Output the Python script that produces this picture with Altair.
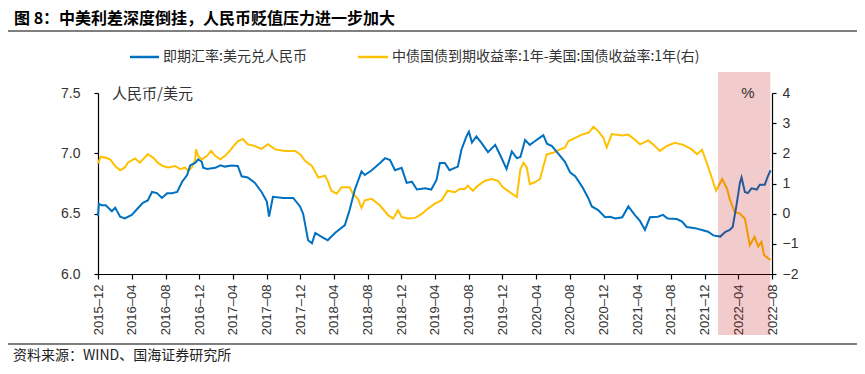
import altair as alt
import pandas as pd

# ---------------- data ----------------
fx_dates = ["2015-12-01","2015-12-04","2015-12-15","2015-12-29","2016-01-20","2016-02-01","2016-02-19","2016-03-07","2016-04-01","2016-04-23",
            "2016-05-11","2016-05-29","2016-06-13","2016-07-01","2016-07-19","2016-08-07","2016-08-24","2016-09-12","2016-09-30","2016-10-18",
            "2016-10-29","2016-11-16","2016-11-27","2016-12-10","2016-12-15","2016-12-29","2017-01-28","2017-02-15","2017-03-03","2017-03-28",
            "2017-04-19","2017-05-03","2017-05-25","2017-06-20","2017-07-14","2017-08-02","2017-08-10","2017-08-24","2017-09-30","2017-11-05",
            "2017-11-30","2017-12-11","2017-12-29","2018-01-12","2018-01-24","2018-02-22","2018-03-10","2018-04-05","2018-05-11","2018-05-28",
            "2018-06-16","2018-07-10","2018-07-22","2018-08-16","2018-09-15","2018-10-03","2018-10-21","2018-11-08","2018-12-02","2018-12-20",
            "2019-01-08","2019-01-26","2019-02-25","2019-03-19","2019-04-07","2019-04-19","2019-05-07","2019-05-24","2019-06-23","2019-07-06",
            "2019-07-24","2019-08-02","2019-08-13","2019-08-29","2019-09-17","2019-10-10","2019-11-05","2019-11-22","2019-12-16","2020-01-04",
            "2020-01-22","2020-02-04","2020-02-21","2020-03-09","2020-03-27","2020-04-21","2020-04-27","2020-05-10","2020-05-28","2020-06-19",
            "2020-07-14","2020-08-02","2020-08-20","2020-09-15","2020-10-06","2020-10-19","2020-11-11","2020-12-06","2020-12-24","2021-01-12",
            "2021-02-06","2021-02-28","2021-03-23","2021-04-11","2021-04-29","2021-05-17","2021-06-15","2021-07-03","2021-07-20","2021-08-22",
            "2021-09-10","2021-09-27","2021-10-27","2021-11-21","2021-12-13","2022-01-01","2022-01-26","2022-02-14","2022-03-01","2022-03-12",
            "2022-03-25","2022-04-07","2022-04-13","2022-04-25","2022-05-06","2022-05-19","2022-06-07","2022-06-18","2022-07-06","2022-07-17",
            "2022-07-27"]
fx_values = [6.48,6.58,6.57,6.57,6.52,6.55,6.475,6.46,6.49,6.545,
             6.59,6.61,6.68,6.67,6.63,6.67,6.67,6.68,6.765,6.82,
             6.90,6.92,6.95,6.93,6.88,6.87,6.88,6.90,6.89,6.90,
             6.895,6.81,6.80,6.755,6.68,6.60,6.475,6.64,6.63,6.63,
             6.56,6.50,6.28,6.255,6.34,6.30,6.28,6.34,6.405,6.53,
             6.70,6.85,6.82,6.86,6.92,6.96,6.945,6.86,6.88,6.755,
             6.765,6.70,6.71,6.70,6.78,6.92,6.92,6.86,6.89,7.03,
             7.14,7.18,7.09,7.14,7.085,7.01,7.07,6.99,6.87,7.015,
             6.96,6.97,7.11,7.07,7.10,7.14,7.15,7.08,7.06,7.00,
             6.93,6.84,6.81,6.72,6.63,6.56,6.53,6.47,6.475,6.46,
             6.47,6.56,6.49,6.44,6.365,6.47,6.475,6.49,6.46,6.455,
             6.435,6.39,6.38,6.365,6.35,6.32,6.31,6.35,6.365,6.39,
             6.56,6.755,6.80,6.68,6.67,6.71,6.70,6.74,6.74,6.81,
             6.86]

spread_dates = ["2015-12-01","2015-12-11","2015-12-25","2016-01-14","2016-02-01","2016-02-19","2016-03-07","2016-03-18","2016-04-13","2016-04-30",
                "2016-05-29","2016-06-17","2016-07-04","2016-07-22","2016-08-10","2016-09-05","2016-09-23","2016-10-11","2016-10-21","2016-11-04",
                "2016-11-16","2016-11-19","2016-11-27","2016-12-10","2016-12-28","2017-01-13","2017-01-28","2017-02-15","2017-03-03","2017-03-21",
                "2017-04-09","2017-04-19","2017-05-07","2017-05-25","2017-06-20","2017-07-14","2017-08-06","2017-09-01","2017-10-07","2017-11-12",
                "2017-11-30","2017-12-18","2018-01-12","2018-02-04","2018-02-28","2018-03-10","2018-03-23","2018-04-11","2018-04-29","2018-05-28",
                "2018-06-09","2018-06-27","2018-07-10","2018-07-22","2018-08-16","2018-09-15","2018-10-14","2018-11-01","2018-11-19","2018-12-02",
                "2018-12-25","2019-01-20","2019-02-14","2019-03-06","2019-04-01","2019-04-25","2019-05-17","2019-06-12","2019-06-30","2019-07-18",
                "2019-07-29","2019-08-16","2019-09-04","2019-09-29","2019-10-23","2019-11-15","2019-12-03","2019-12-28","2020-01-22","2020-02-04",
                "2020-02-15","2020-02-27","2020-03-09","2020-03-27","2020-04-15","2020-04-26","2020-05-09","2020-06-02","2020-06-26","2020-07-14",
                "2020-07-26","2020-08-20","2020-09-13","2020-10-07","2020-10-25","2020-11-12","2020-11-30","2020-12-12","2020-12-30","2021-02-06",
                "2021-02-28","2021-03-23","2021-04-11","2021-05-11","2021-05-28","2021-06-22","2021-07-16","2021-08-15","2021-09-15","2021-10-15",
                "2021-11-03","2021-11-21","2021-12-08","2021-12-26","2022-01-11","2022-02-02","2022-02-20","2022-03-01","2022-03-19","2022-04-07",
                "2022-04-25","2022-05-13","2022-05-30","2022-06-12","2022-06-24","2022-07-03","2022-07-18","2022-07-27"]
spread_values = [1.67,1.89,1.86,1.80,1.58,1.44,1.53,1.69,1.83,1.69,
                 1.97,1.86,1.69,1.58,1.53,1.58,1.475,1.53,1.42,1.53,
                 1.80,2.13,1.91,1.80,1.91,2.08,1.91,1.80,1.91,2.08,
                 2.30,2.40,2.48,2.30,2.24,2.15,2.30,2.13,2.08,2.08,
                 1.97,1.75,1.58,1.20,1.26,1.09,0.76,0.66,0.875,0.875,
                 0.66,0.49,0.19,0.44,0.49,0.27,-0.05,-0.16,0.11,-0.11,
                 -0.16,-0.14,0.0,0.16,0.33,0.44,0.76,0.71,0.82,0.82,
                 0.93,0.76,0.93,1.09,1.15,1.09,0.875,0.71,0.55,1.475,
                 1.69,1.53,0.98,1.04,1.15,1.53,1.97,2.02,2.13,2.19,
                 2.40,2.51,2.62,2.68,2.88,2.73,2.51,2.20,2.64,2.59,
                 2.62,2.46,2.30,2.43,2.30,2.08,2.24,2.35,2.28,2.13,
                 1.97,2.12,1.69,1.20,0.76,1.15,0.82,0.49,0.06,0.0,
                 -0.16,-1.04,-0.77,-1.09,-0.93,-1.37,-1.48,-1.53]

x_tick_months = ["2015-12","2016-04","2016-08","2016-12","2017-04","2017-08","2017-12","2018-04","2018-08","2018-12",
                 "2019-04","2019-08","2019-12","2020-04","2020-08","2020-12","2021-04","2021-08","2021-12","2022-04","2022-08"]
left_ticks = [6.0, 6.5, 7.0, 7.5]
right_ticks = [-2, -1, 0, 1, 2, 3, 4]
shade_start = ["2022-01-18"]
shade_end = ["2022-07-26"]

title_text = "图 8：中美利差深度倒挂，人民币贬值压力进一步加大"
legend_fx = "即期汇率:美元兑人民币"
legend_spread = "中债国债到期收益率:1年-美国:国债收益率:1年(右)"
left_unit = "人民币/美元"
right_unit = "%"
source_text = "资料来源：WIND、国海证券研究所"

# ---------------- chart ----------------
W, H = 674, 181
CJK = "Noto Sans CJK SC"
LAT = "Liberation Sans"
BLUE = "#0070C0"
GOLD = "#FFC000"


def dt(s):
    y, m, d = (s.split("-") + ["1"])[:3]
    return alt.DateTime(year=int(y), month=int(m), date=int(d), utc=True)


xscale = alt.Scale(type="utc", domain=[dt("2015-12-01"), dt("2022-08-01")])
xaxis = alt.Axis(values=[dt(m) for m in x_tick_months], format="%Y–%m", labelAngle=-90,
                 title=None, tickSize=5, labelPadding=5, labelFontSize=13, labelFont=LAT,
                 labelColor="#333333", domainColor="black", tickColor="black",
                 domainWidth=1.2, tickWidth=1.2, grid=False, labelOverlap=False)

fx_df = pd.DataFrame({"date": fx_dates, "value": fx_values})
sp_df = pd.DataFrame({"date": spread_dates, "value": spread_values})
shade_df = pd.DataFrame({"start": shade_start, "end": shade_end})

sp_line = alt.Chart(sp_df).mark_line(color=GOLD, strokeWidth=2).encode(
    x=alt.X("date:T", scale=xscale, axis=xaxis),
    y=alt.Y("value:Q", scale=alt.Scale(domain=[-2, 4], nice=False, zero=False),
            axis=alt.Axis(orient="right", values=right_ticks, format="d", title=None, tickSize=4,
                          labelPadding=6, labelFontSize=14, labelFont=LAT, labelColor="#333333",
                          domainColor="black", tickColor="black", domainWidth=1.2, tickWidth=1.2,
                          grid=False)),
)

fx_line = alt.Chart(fx_df).mark_line(color=BLUE, strokeWidth=2).encode(
    x=alt.X("date:T", scale=xscale, axis=xaxis),
    y=alt.Y("value:Q", scale=alt.Scale(domain=[6.0, 7.5], nice=False, zero=False),
            axis=alt.Axis(orient="left", values=left_ticks, format=".1f", title=None, tickSize=4,
                          labelPadding=14, labelFontSize=14, labelFont=LAT, labelColor="#333333",
                          domainColor="black", tickColor="black", domainWidth=1.2, tickWidth=1.2,
                          grid=False)),
)

shade = alt.Chart(shade_df).mark_rect(color="#C00000", opacity=0.2).encode(
    x=alt.X("start:T", scale=xscale, axis=xaxis),
    x2="end:T",
    y=alt.value(-21),
    y2=alt.value(H + 61),
)


def txt(s, x, y, size=14, weight="normal", align="left", color="#333333", font=CJK):
    return alt.Chart(pd.DataFrame({"t": [s]})).mark_text(
        align=align, baseline="middle", fontSize=size, fontWeight=weight, font=font, color=color
    ).encode(x=alt.value(x), y=alt.value(y), text="t:N")


def hline(x1, x2, y, color="black", width=1.2):
    return alt.Chart(pd.DataFrame({"a": [0]})).mark_rule(color=color, strokeWidth=width).encode(
        x=alt.value(x1), x2=alt.value(x2), y=alt.value(y))


title = txt(title_text, -84, -74, size=16, weight="bold", color="black")
title_rule = hline(-94, 762, -62)
foot_rule = hline(-94, 762, 251)
footer = txt(source_text, -85, 263, size=14, color="#222222")
leg1_line = hline(32, 61, -36, color=BLUE, width=2.5)
leg1_text = txt(legend_fx, 65, -36)
leg2_line = hline(260, 290, -36, color=GOLD, width=2.5)
leg2_text = txt(legend_spread, 294, -36)
unit_left = txt(left_unit, 14, 1, size=15)
unit_right = txt(right_unit, 650, 0, size=15, align="center", font=LAT)

chart = alt.layer(
    sp_line, fx_line, shade,
    title, title_rule, foot_rule, footer,
    leg1_line, leg1_text, leg2_line, leg2_text, unit_left, unit_right,
).resolve_scale(y="independent").properties(
    width=W, height=H,
    padding={"left": 90, "top": 85, "right": 85, "bottom": 88},
    autosize=alt.AutoSizeParams(type="none"),
    background="white",
).configure_view(stroke=None)

chart.save("out.html", embed_options={"renderer": "svg", "actions": False})
